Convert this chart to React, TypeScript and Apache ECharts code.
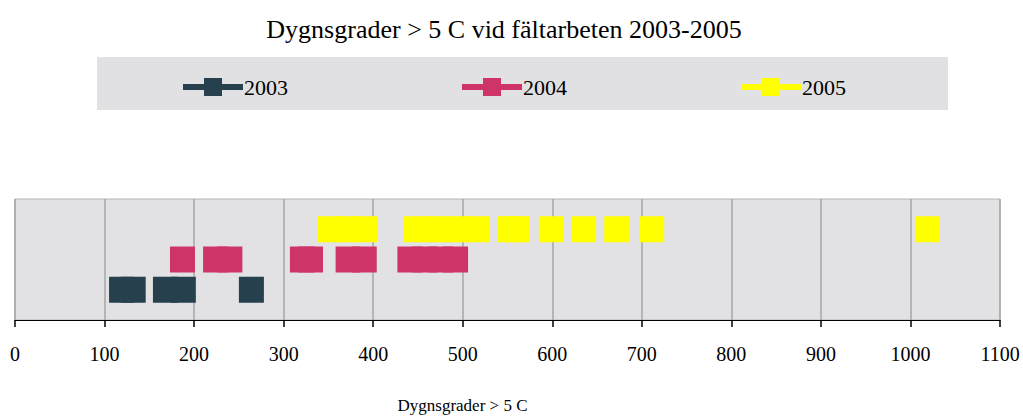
import React, { useEffect, useRef } from "react";
import * as echarts from "echarts";

const TITLE = "Dygnsgrader > 5 C vid fältarbeten 2003-2005";
const AXIS_TITLE = "Dygnsgrader > 5 C";
const SERIES_NAMES = ["2003", "2004", "2005"];
const SERIES_LEVELS = [1, 2, 3];
const SERIES_COLORS = ["#27404d", "#cf3469", "#ffff00"];

const values2003 = [119, 132, 168, 188, 264];
const values2004 = [187, 224, 240, 321, 330, 372, 390, 441, 458, 475, 492];
const values2005 = [352, 372, 391, 448, 471, 494, 516, 553, 560, 599, 635, 672, 711, 1019];

const X_MIN = 0;
const X_MAX = 1100;
const X_STEP = 100;

const LEGEND_ICON = "path://M0,6H21V0H39V6H60V12H39V18H21V12H0Z";
const FONT = "'Liberation Serif', 'Times New Roman', serif";

export default function App() {
  const ref = useRef<HTMLDivElement>(null);
  useEffect(() => {
    if (!ref.current) return;
    const chart = echarts.init(ref.current, undefined, { renderer: "svg" });
    const all = [values2003, values2004, values2005];
    chart.setOption({
      animation: false,
      backgroundColor: "#ffffff",
      title: {
        text: TITLE,
        left: 499,
        top: 11,
        textAlign: "center",
        textStyle: { fontFamily: FONT, fontSize: 26, fontWeight: "normal", color: "#000" },
      },
      graphic: [
        {
          type: "rect",
          shape: { x: 97, y: 57, width: 851, height: 53 },
          style: { fill: "#e1e1e3" },
          z: -10,
        },
      ],
      legend: {
        left: 183,
        top: 76,
        itemWidth: 60,
        itemHeight: 18,
        itemGap: 174,
        padding: 0,
        textStyle: { fontFamily: FONT, fontSize: 22, color: "#000", padding: [0, 0, 0, -4] },
        data: SERIES_NAMES.map((n) => ({ name: n, icon: LEGEND_ICON })),
      },
      grid: {
        left: 15,
        right: 23,
        top: 199,
        bottom: 99,
        show: true,
        backgroundColor: "#e2e2e4",
        borderColor: "#b4b4b4",
        borderWidth: 1,
      },
      xAxis: {
        type: "value",
        min: X_MIN,
        max: X_MAX,
        interval: X_STEP,
        name: AXIS_TITLE,
        nameLocation: "middle",
        nameGap: 77,
        nameTextStyle: { fontFamily: FONT, fontSize: 17, color: "#000", padding: [0, 0, 0, -90] },
        axisLine: { show: true, lineStyle: { color: "#000", width: 1 } },
        axisTick: { show: true, length: 7, lineStyle: { color: "#000", width: 1.5 } },
        axisLabel: {
          fontFamily: FONT,
          fontSize: 20,
          color: "#000",
          margin: 24,
          formatter: (v: number) => String(v),
        },
        splitLine: { show: true, lineStyle: { color: "#a6a6a6", width: 1.5 } },
      },
      yAxis: {
        type: "value",
        min: 0,
        max: 4,
        show: false,
        splitLine: { show: false },
      },
      series: SERIES_NAMES.map((name, i) => ({
        name,
        type: "scatter",
        symbol: "rect",
        symbolSize: [25, 26],
        itemStyle: { color: SERIES_COLORS[i], opacity: 1 },
        data: all[i].map((v) => [v, SERIES_LEVELS[i]]),
      })),
    });
    return () => chart.dispose();
  }, []);
  return (
    <div
      ref={ref}
      style={{ position: "fixed", left: 0, top: 0, width: 1023, height: 419 }}
    />
  );
}
